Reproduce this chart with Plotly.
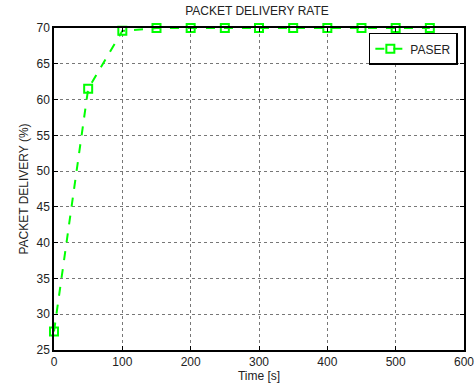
import plotly.graph_objects as go

time_s = [0, 50, 100, 150, 200, 250, 300, 350, 400, 450, 500, 550]
delivery = [27.6, 61.5, 69.6, 70, 70, 70, 70, 70, 70, 70, 70, 70]
x_ticks = [0, 100, 200, 300, 400, 500, 600]
y_ticks = [25, 30, 35, 40, 45, 50, 55, 60, 65, 70]

FONT = dict(family="Liberation Sans, Arial", size=12, color="#222")

fig = go.Figure()
fig.add_trace(go.Scatter(
    x=time_s, y=delivery, name="PASER", mode="lines+markers",
    line=dict(color="#00FF00", width=2, dash="dash"),
    marker=dict(symbol="square-open", size=8, color="#00FF00", line=dict(width=2)),
    cliponaxis=False,
))

axis_common = dict(
    showline=True, linecolor="black", linewidth=1.5, mirror="ticks",
    ticks="inside", ticklen=4, tickcolor="black",
    showgrid=True, gridcolor="#777777", griddash="dot", gridwidth=1,
    zeroline=False, tickfont=FONT, automargin=False,
)

fig.update_layout(
    width=476, height=387,
    margin=dict(l=54, r=12, t=28, b=37),
    paper_bgcolor="white", plot_bgcolor="white",
    title=dict(text="PACKET DELIVERY RATE", x=257/476, xanchor="center", y=1 - 7/387, yanchor="top",
               font=FONT),
    xaxis=dict(range=[0, 600], tickvals=x_ticks,
               title=dict(text="Time [s]", standoff=3, font=FONT),
               **axis_common),
    yaxis=dict(range=[25, 70], tickvals=y_ticks,
               title=dict(text="PACKET DELIVERY (%)", standoff=5, font=FONT),
               **axis_common),
    legend=dict(x=0.985, xanchor="right", y=0.985, yanchor="top",
                bordercolor="black", borderwidth=1.5, bgcolor="white",
                font=FONT),
    showlegend=True,
)

fig.write_html("out.html")
